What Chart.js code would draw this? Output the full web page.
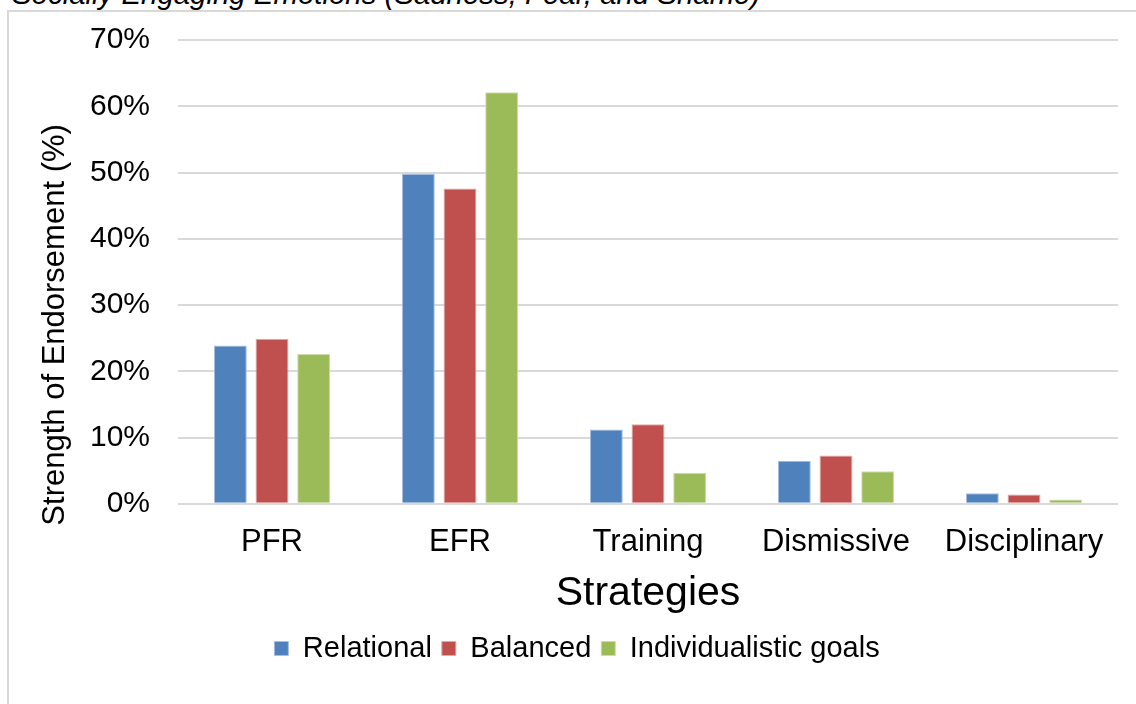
<!DOCTYPE html>
<html>
<head>
<meta charset="utf-8">
<script src="https://cdn.jsdelivr.net/npm/chart.js@4.4.1/dist/chart.umd.min.js"></script>
<style>
  html, body { margin: 0; padding: 0; background: #fff; overflow: hidden; }
  #wrap { position: relative; width: 1136px; height: 704px; overflow: hidden; }
  #frame { position: absolute; left: 7px; top: 10px; width: 1160px; height: 720px;
           border: 2px solid #d9d9d9; box-sizing: border-box; }
  #heading { position: absolute; left: 12px; top: -23px; font: italic 29.4px "Liberation Sans", Arial, sans-serif;
             color: #000; white-space: nowrap; }
  canvas { position: absolute; left: 0; top: 0; }
</style>
</head>
<body>
<div id="wrap">
  <div id="frame"></div>
  <div id="heading">Socially Engaging Emotions (Sadness, Fear, and Shame)</div>
  <canvas id="c" width="1136" height="704"></canvas>
</div>
<script>
// Strategy categories and endorsement (%) per goal orientation
const strategies = ['PFR', 'EFR', 'Training', 'Dismissive', 'Disciplinary'];
const relational = [23.9, 49.8, 11.2, 6.5, 1.6];
const balanced = [24.9, 47.6, 12.0, 7.3, 1.4];
const individualistic = [22.6, 62.1, 4.7, 4.9, 0.65];
const yTicks = [0, 10, 20, 30, 40, 50, 60, 70];
const yTitle = 'Strength of Endorsement (%)';

const font = '"Liberation Sans", Arial, sans-serif';

// Vertical axis title, centred on the plot plus category labels
const yTitlePlugin = {
  id: 'yTitle',
  afterDraw(chart) {
    const { ctx, chartArea } = chart;
    const cy = (chartArea.top + chartArea.bottom) / 2 + 53;
    ctx.save();
    ctx.translate(55, cy);
    ctx.rotate(-Math.PI / 2);
    ctx.font = '31px ' + font;
    ctx.fillStyle = '#000';
    ctx.textAlign = 'center';
    ctx.textBaseline = 'middle';
    ctx.fillText(yTitle, 0, 0);
    ctx.restore();
  }
};

new Chart(document.getElementById('c'), {
  type: 'bar',
  data: {
    labels: strategies,
    datasets: [
      { label: 'Relational', data: relational, backgroundColor: '#4F81BD', borderColor: '#a7bfdf', borderWidth: 1 },
      { label: 'Balanced', data: balanced, backgroundColor: '#C0504D', borderColor: '#e0a8a6', borderWidth: 1 },
      { label: 'Individualistic goals', data: individualistic, backgroundColor: '#9BBB59', borderColor: '#cddcac', borderWidth: 1 }
    ]
  },
  plugins: [yTitlePlugin],
  options: {
    responsive: false,
    animation: false,
    layout: { padding: { left: 36, right: 18, top: 40, bottom: 31 } },
    datasets: { bar: { categoryPercentage: 0.665, barPercentage: 0.79 } },
    plugins: {
      legend: {
        position: 'bottom',
        labels: { font: { family: font, size: 29 }, color: '#000', boxWidth: 14, boxHeight: 14, padding: 10 }
      },
      tooltip: { enabled: false }
    },
    scales: {
      x: {
        grid: { display: false },
        border: { display: false },
        ticks: { font: { family: font, size: 31, lineHeight: 1.0 }, color: '#000', padding: 15 },
        title: { display: true, text: 'Strategies', font: { family: font, size: 41 }, color: '#000', padding: { top: -4, bottom: 6 } }
      },
      y: {
        min: 0, max: 70,
        afterBuildTicks: s => { s.ticks = yTicks.map(v => ({ value: v })); },
        afterFit: s => { s.width = 142; s.paddingTop = 0; s.paddingBottom = 0; },
        grid: { color: '#d9d9d9', lineWidth: 2, drawTicks: false },
        border: { display: false },
        ticks: { font: { family: font, size: 30 }, color: '#000', padding: 28, callback: v => v + '%' }
      }
    }
  }
});
</script>
</body>
</html>
